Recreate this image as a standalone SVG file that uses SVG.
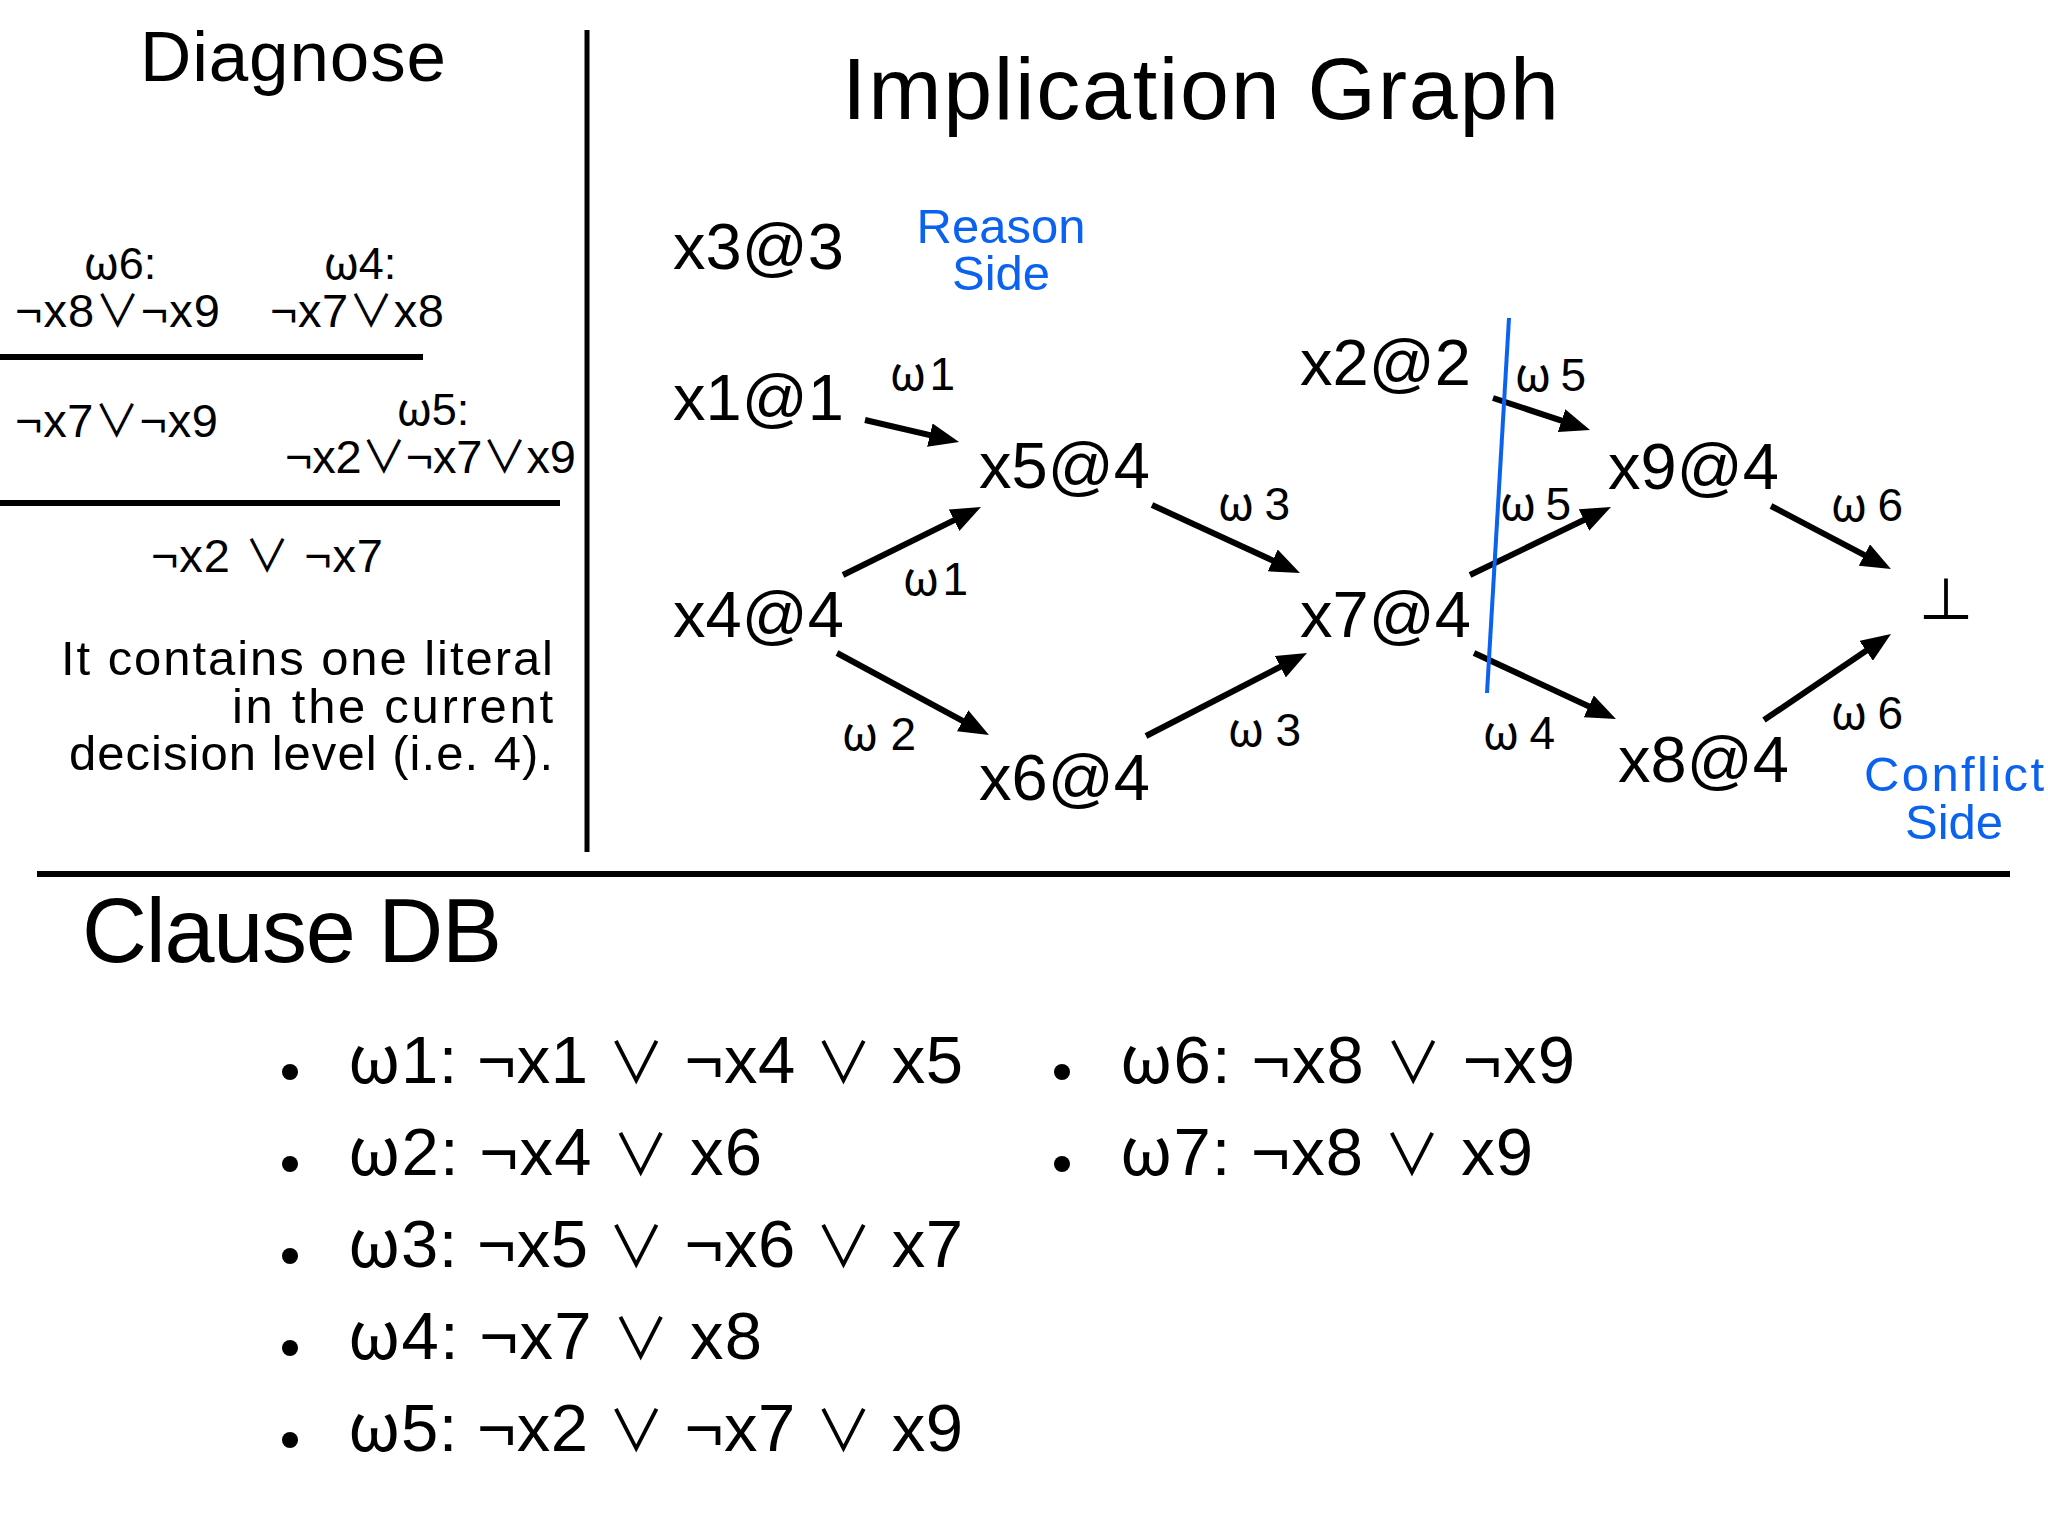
<svg xmlns="http://www.w3.org/2000/svg" width="2048" height="1536" viewBox="0 0 2048 1536">
<style>
text{font-family:"Liberation Sans","Noto Sans CJK JP","DejaVu Sans",Arial,sans-serif;fill:#000}
.w{font-family:"Noto Sans CJK JP","DejaVu Sans",sans-serif}
.o{font-family:"Noto Sans CJK JP","DejaVu Sans",sans-serif;font-size:85%}
.od{font-family:"Noto Sans CJK JP","DejaVu Sans",sans-serif;font-size:95%}
.title{font-size:88px}
.node{font-size:65px}
.lbl{font-size:46px}
.blue{font-size:49px;fill:#0a62ef;text-anchor:middle}
.dg{font-size:47px}
.dw{font-size:45px;text-anchor:middle}
.para{font-size:49px;text-anchor:end}
.db{font-size:67px}
.rule{stroke:#000;stroke-width:6;fill:none}
.edge{stroke:#000;stroke-width:6;fill:none;marker-end:url(#ah)}
</style>
<defs>
<marker id="ah" markerUnits="userSpaceOnUse" markerWidth="30" markerHeight="24" refX="20" refY="12" orient="auto">
<path d="M0,0 L30,12 L0,24 z" fill="#000"/>
</marker>
</defs>
<rect width="2048" height="1536" fill="#fff"/>

<!-- frame rules -->
<g id="rules">
<line class="rule" x1="587" y1="30" x2="587" y2="852" style="stroke-width:5"/>
<line class="rule" x1="37" y1="874" x2="2010" y2="874"/>
<line class="rule" x1="0" y1="357" x2="423" y2="357"/>
<line class="rule" x1="0" y1="503" x2="560" y2="503"/>
</g>

<!-- Diagnose panel -->
<g id="diagnose">
<text class="title" x="140" y="81" style="font-size:71px" textLength="306">Diagnose</text>
<text class="dw" x="120" y="279"><tspan class="w">ω</tspan>6:</text>
<text class="dg" x="15" y="327" textLength="205">¬x8<tspan class="od">∨</tspan>¬x9</text>
<text class="dw" x="360" y="279"><tspan class="w">ω</tspan>4:</text>
<text class="dg" x="270" y="327" textLength="174">¬x7<tspan class="od">∨</tspan>x8</text>
<text class="dg" x="15" y="437" textLength="203">¬x7<tspan class="od">∨</tspan>¬x9</text>
<text class="dw" x="433" y="425"><tspan class="w">ω</tspan>5:</text>
<text class="dg" x="285" y="473" textLength="291">¬x2<tspan class="od">∨</tspan>¬x7<tspan class="od">∨</tspan>x9</text>
<text class="dg" x="151" y="572" textLength="232">¬x2 <tspan class="od">∨</tspan> ¬x7</text>
<text class="para" x="553" y="675" textLength="492">It contains one literal</text>
<text class="para" x="553" y="723" textLength="321">in the current</text>
<text class="para" x="553" y="770" textLength="484">decision level (i.e. 4).</text>
</g>

<!-- Implication graph -->
<text class="title" x="842" y="119" textLength="717">Implication Graph</text>
<text class="blue" x="1001" y="243">Reason</text>
<text class="blue" x="1001" y="290">Side</text>
<text class="blue" x="1864" y="791" style="text-anchor:start" textLength="180">Conflict</text>
<text class="blue" x="1954" y="839">Side</text>

<g id="connectors">
<line class="edge" x1="865" y1="420" x2="949.3" y2="439.7"/>
<line class="edge" x1="843" y1="575" x2="972.0" y2="511.4"/>
<line class="edge" x1="1152" y1="505" x2="1290.9" y2="568.8"/>
<line class="edge" x1="837" y1="653" x2="980.2" y2="730.3"/>
<line class="edge" x1="1146" y1="736" x2="1298.1" y2="657.6"/>
<line class="edge" x1="1493" y1="398" x2="1580.5" y2="426.9"/>
<line class="edge" x1="1470" y1="575" x2="1602.0" y2="511.3"/>
<line class="edge" x1="1474" y1="653" x2="1606.9" y2="714.8"/>
<line class="edge" x1="1771" y1="506" x2="1882.1" y2="564.3"/>
<line class="edge" x1="1764" y1="720" x2="1882.7" y2="639.6"/>
<g id="edge-labels">
<text class="lbl" x="890" y="390" textLength="65"><tspan class="w">ω</tspan>1</text>
<text class="lbl" x="903" y="595" textLength="65"><tspan class="w">ω</tspan>1</text>
<text class="lbl" x="1218" y="520" textLength="72"><tspan class="w">ω</tspan>3</text>
<text class="lbl" x="842" y="750" textLength="74"><tspan class="w">ω</tspan>2</text>
<text class="lbl" x="1228" y="746" textLength="73"><tspan class="w">ω</tspan>3</text>
<text class="lbl" x="1515" y="391" textLength="71"><tspan class="w">ω</tspan>5</text>
<text class="lbl" x="1500" y="520" textLength="71"><tspan class="w">ω</tspan>5</text>
<text class="lbl" x="1831" y="521" textLength="72"><tspan class="w">ω</tspan>6</text>
<text class="lbl" x="1831" y="729" textLength="72"><tspan class="w">ω</tspan>6</text>
<text class="lbl" x="1483" y="749" textLength="72"><tspan class="w">ω</tspan>4</text>
</g>
</g>

<line id="cut" x1="1509" y1="318" x2="1487" y2="693" stroke="#0a62ef" stroke-width="4"/>

<g id="n-x3"><text class="node" x="673" y="269">x3@3</text></g>
<g id="n-x1"><text class="node" x="673" y="420">x1@1</text></g>
<g id="n-x4"><text class="node" x="673" y="637">x4@4</text></g>
<g id="n-x5"><text class="node" x="979" y="488">x5@4</text></g>
<g id="n-x6"><text class="node" x="979" y="800">x6@4</text></g>
<g id="n-x7"><text class="node" x="1300" y="637">x7@4</text></g>
<g id="n-x2"><text class="node" x="1300" y="385">x2@2</text></g>
<g id="n-x9"><text class="node" x="1608" y="489">x9@4</text></g>
<g id="n-x8"><text class="node" x="1618" y="782">x8@4</text></g>
<g id="n-bot"><text class="w" x="1946" y="620" style="font-size:56px;text-anchor:middle">⊥</text></g>

<!-- Clause DB -->
<g id="clausedb">
<text class="title" x="82" y="962" style="font-size:90px" textLength="420">Clause DB</text>
<circle cx="290" cy="1072" r="8"/>
<circle cx="290" cy="1164" r="8"/>
<circle cx="290" cy="1256" r="8"/>
<circle cx="290" cy="1348" r="8"/>
<circle cx="290" cy="1440" r="8"/>
<circle cx="1062" cy="1072" r="8"/>
<circle cx="1062" cy="1164" r="8"/>
<text class="db" x="348" y="1083" textLength="615"><tspan class="w">ω</tspan>1: ¬x1 <tspan class="o">∨</tspan> ¬x4 <tspan class="o">∨</tspan> x5</text>
<text class="db" x="348" y="1175" textLength="414"><tspan class="w">ω</tspan>2: ¬x4 <tspan class="o">∨</tspan> x6</text>
<text class="db" x="348" y="1267" textLength="615"><tspan class="w">ω</tspan>3: ¬x5 <tspan class="o">∨</tspan> ¬x6 <tspan class="o">∨</tspan> x7</text>
<text class="db" x="348" y="1359" textLength="414"><tspan class="w">ω</tspan>4: ¬x7 <tspan class="o">∨</tspan> x8</text>
<text class="db" x="348" y="1451" textLength="615"><tspan class="w">ω</tspan>5: ¬x2 <tspan class="o">∨</tspan> ¬x7 <tspan class="o">∨</tspan> x9</text>
<text class="db" x="1120" y="1083" textLength="455"><tspan class="w">ω</tspan>6: ¬x8 <tspan class="o">∨</tspan> ¬x9</text>
<text class="db" x="1120" y="1175" textLength="413"><tspan class="w">ω</tspan>7: ¬x8 <tspan class="o">∨</tspan> x9</text>
</g>
</svg>
